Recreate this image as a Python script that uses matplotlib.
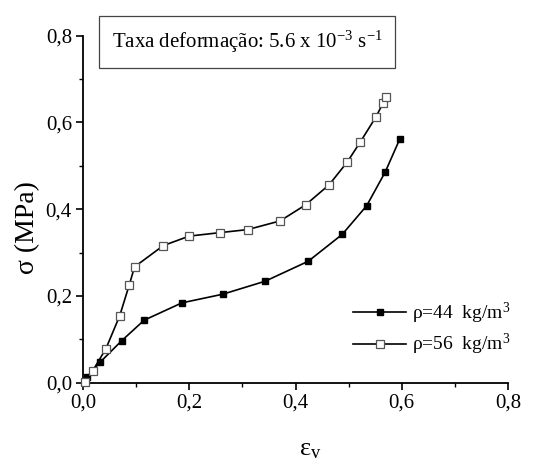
import matplotlib
matplotlib.use("Agg")
import matplotlib.pyplot as plt
from matplotlib.ticker import MultipleLocator, FixedLocator, FixedFormatter

plt.rcParams['font.family'] = ['Liberation Serif', 'DejaVu Serif']
plt.rcParams['mathtext.fontset'] = 'custom'
plt.rcParams['mathtext.rm'] = 'Liberation Serif'
plt.rcParams['mathtext.it'] = 'Liberation Serif'

# Data
eps_44 = [0.008, 0.032, 0.073, 0.115, 0.186, 0.263, 0.343, 0.424, 0.488, 0.534, 0.569, 0.596]
sig_44 = [0.014, 0.047, 0.097, 0.144, 0.184, 0.204, 0.234, 0.280, 0.342, 0.408, 0.486, 0.561]

eps_56 = [0.004, 0.018, 0.043, 0.069, 0.087, 0.097, 0.151, 0.200, 0.258, 0.310, 0.371,
          0.419, 0.463, 0.497, 0.522, 0.551, 0.565, 0.570]
sig_56 = [0.002, 0.027, 0.078, 0.154, 0.225, 0.267, 0.316, 0.338, 0.346, 0.353, 0.373,
          0.410, 0.456, 0.508, 0.555, 0.612, 0.645, 0.658]

tick_vals = [0.0, 0.2, 0.4, 0.6, 0.8]
tick_labels = ['0,0', '0,2', '0,4', '0,6', '0,8']
label_44 = r'ρ=44  kg/m$^3$'
label_56 = r'ρ=56  kg/m$^3$'
title_text = r'Taxa deformação: 5.6 x 10$^{-3}$ s$^{-1}$'

W, H = 554, 461
fig = plt.figure(figsize=(W / 100, H / 100), dpi=100)
ax = fig.add_axes([83 / W, 1 - 382.7 / H, (508 - 83) / W, (382.7 - 35.7) / H])

ax.plot(eps_44, sig_44, '-', color='black', lw=1.2, marker='s', ms=5,
        mfc='black', mec='black', label=label_44, clip_on=False, zorder=3)
ax.plot(eps_56, sig_56, '-', color='black', lw=1.2, marker='s', ms=5.5,
        mfc='white', mec='#555555', mew=0.9, label=label_56, clip_on=False, zorder=3)

ax.set_xlim(0, 0.8)
ax.set_ylim(0, 0.8)
for s in ['top', 'right']:
    ax.spines[s].set_visible(False)
for s in ['left', 'bottom']:
    ax.spines[s].set_linewidth(1.3)

ax.xaxis.set_major_locator(FixedLocator(tick_vals))
ax.xaxis.set_major_formatter(FixedFormatter(tick_labels))
ax.yaxis.set_major_locator(FixedLocator(tick_vals))
ax.yaxis.set_major_formatter(FixedFormatter(tick_labels))
ax.xaxis.set_minor_locator(MultipleLocator(0.1))
ax.yaxis.set_minor_locator(MultipleLocator(0.1))
ax.tick_params(which='major', direction='out', length=5, width=1.2, labelsize=15, pad=3)
ax.tick_params(which='minor', direction='out', length=3, width=1.0)

# axis labels placed like the reference
fig.text(310 / W, 1 - 455 / H, r'ε$_{\mathrm{v}}$', fontsize=19, ha='center', va='baseline')
fig.text(28 / W, 1 - 228 / H, 'σ (MPa)', fontsize=20, rotation=90, ha='center', va='center')

fig.text(247 / W, 1 - 42 / H, title_text, fontsize=15, ha='center', va='center',
         bbox=dict(boxstyle='square,pad=0.62', fc='white', ec='#444444', lw=0.9))

leg = ax.legend(loc='upper left', bbox_to_anchor=(353 / W, 1 - 301 / H),
                bbox_transform=fig.transFigure, frameon=False,
                fontsize=14, handlelength=2.75, handletextpad=0.3, labelspacing=0.3,
                borderaxespad=0, borderpad=0)

fig.savefig('out.png', dpi=100)
